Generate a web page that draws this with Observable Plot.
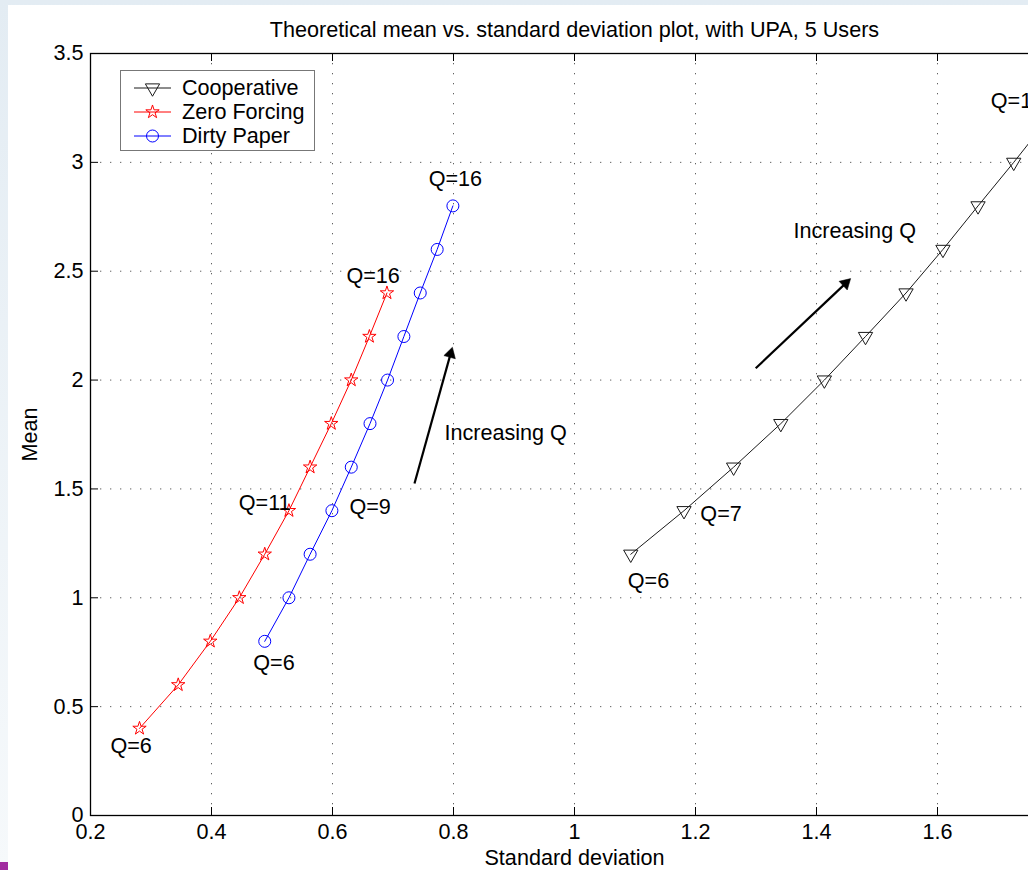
<!DOCTYPE html>
<html>
<head>
<meta charset="utf-8">
<script src="https://cdn.jsdelivr.net/npm/d3@7"></script>
<script src="https://cdn.jsdelivr.net/npm/@observablehq/plot@0.6"></script>
<style>
  html, body { margin: 0; padding: 0; }
  body { width: 1028px; height: 870px; overflow: hidden; font-family: "Liberation Sans", Arial, Helvetica, sans-serif; }
  #page { position: relative; width: 1028px; height: 870px; overflow: hidden;
          background: linear-gradient(to bottom, #e3ecf3, #f6f9fb); }
  #fig { position: absolute; left: 8px; top: 5px; width: 1100px; height: 865px; background: #fff; }
  #fig svg { max-width: none !important; overflow: visible; }
  #corner { position: absolute; left: 0; top: 862px; width: 8px; height: 8px; background: #a12ca0; }
  #legend { position: absolute; left: 120px; top: 70px; width: 195px; height: 81px; background: #fff;
            border: 1px solid #777; box-sizing: border-box; }
  #legend .row { position: absolute; left: 0; height: 24px; width: 194px; }
  #legend svg { position: absolute; left: 12px; top: 0; }
  #legend span { position: absolute; left: 61px; top: 0; line-height: 24px; font-size: 21.6px; color: #000; white-space: nowrap; }
</style>
</head>
<body>
<div id="page">
  <div id="fig"></div>
  <div id="legend"></div>
  <div id="corner"></div>
</div>
<script>
// ---------------- data ----------------
const titleText = "Theoretical mean vs. standard deviation plot, with UPA, 5 Users";
const xLabel = "Standard deviation";
const yLabel = "Mean";
const xTicks = [0.2, 0.4, 0.6, 0.8, 1, 1.2, 1.4, 1.6, 1.8];
const xTickLabels = [0.2, 0.4, 0.6, 0.8, 1, 1.2, 1.4, 1.6];   // 1.8 lies outside the picture
const yTicks = [0, 0.5, 1, 1.5, 2, 2.5, 3, 3.5];

const seriesNames = ["Cooperative", "Zero Forcing", "Dirty Paper"];
const seriesColors = ["#1a1a1a", "#ff0000", "#0000ff"];

const qValues = [6, 7, 8, 9, 10, 11, 12, 13, 14, 15, 16];
const coopStd  = [1.093, 1.181, 1.263, 1.341, 1.413, 1.481, 1.548, 1.609, 1.667, 1.726, 1.783];
const coopMean = [1.2, 1.4, 1.6, 1.8, 2.0, 2.2, 2.4, 2.6, 2.8, 3.0, 3.2];
const zfStd    = [0.281, 0.345, 0.398, 0.446, 0.488, 0.528, 0.563, 0.598, 0.631, 0.661, 0.690];
const zfMean   = [0.4, 0.6, 0.8, 1.0, 1.2, 1.4, 1.6, 1.8, 2.0, 2.2, 2.4];
const dpStd    = [0.488, 0.528, 0.563, 0.599, 0.631, 0.662, 0.691, 0.718, 0.745, 0.773, 0.799];
const dpMean   = [0.8, 1.0, 1.2, 1.4, 1.6, 1.8, 2.0, 2.2, 2.4, 2.6, 2.8];

const noteText = ["Q=6", "Q=11", "Q=16", "Q=6", "Q=9", "Q=16", "Q=6", "Q=7", "Q=16", "Increasing Q", "Increasing Q"];
const noteX    = [0.233, 0.445, 0.623, 0.469, 0.628, 0.759, 1.088, 1.208, 1.688, 0.785, 1.362];
const noteY    = [0.321, 1.436, 2.478, 0.702, 1.418, 2.923, 1.078, 1.386, 3.28, 1.758, 2.685];

const arrowX1 = [0.7355, 1.2995];
const arrowY1 = [1.525, 2.054];
const arrowX2 = [0.798, 1.456];
const arrowY2 = [2.149, 2.465];

// ---------------- build ----------------
const toRows = (xs, ys) => xs.map((x, i) => ({x, y: ys[i], q: qValues[i]}));
const coop = toRows(coopStd, coopMean);
const zf = toRows(zfStd, zfMean);
const dp = toRows(dpStd, dpMean);
const notes = noteText.map((t, i) => ({t, x: noteX[i], y: noteY[i]}));
const arrows = arrowX1.map((x1, i) => ({x1, y1: arrowY1[i], x2: arrowX2[i], y2: arrowY2[i]}));

const W = 1090, H = 865, mL = 82, mR = 40, mT = 48, mB = 55;
const frameW = W - mL - mR, frameH = H - mT - mB;
const TICK = 8;
const FS = 21.6;
const FONT = "'Liberation Sans', Arial, Helvetica, sans-serif";

function build(heads, shafts) {
  return Plot.plot({
    width: W, height: H,
    marginLeft: mL, marginRight: mR, marginTop: mT, marginBottom: mB,
    style: {fontFamily: FONT, fontSize: FS + "px", background: "#fff", color: "#000", overflow: "visible"},
    x: {domain: [0.2, 1.8]},
    y: {domain: [0, 3.5]},
    marks: [
      Plot.gridX(xTicks.slice(1, -1), {stroke: "#444", strokeOpacity: 0.85, strokeDasharray: "1.3,8.7"}),
      Plot.gridY(yTicks.slice(1, -1), {stroke: "#444", strokeOpacity: 0.85, strokeDasharray: "1.3,8.7"}),
      // inward tick marks (MATLAB style)
      Plot.ruleX(xTicks, {x: d => d, insetTop: frameH - TICK, stroke: "#000"}),
      Plot.ruleX(xTicks, {x: d => d, insetBottom: frameH - TICK, stroke: "#000"}),
      Plot.ruleY(yTicks, {y: d => d, insetRight: frameW - TICK, stroke: "#000"}),
      Plot.ruleY(yTicks, {y: d => d, insetLeft: frameW - TICK, stroke: "#000"}),
      Plot.axisX({ticks: xTickLabels, tickSize: 0, tickPadding: 8, label: null, tickFormat: d => String(d), fontSize: FS}),
      Plot.axisY({ticks: yTicks, tickSize: 0, tickPadding: 7, label: null, tickFormat: d => String(d), fontSize: FS}),
      // series
      Plot.line(coop, {x: "x", y: "y", stroke: seriesColors[0], strokeWidth: 1}),
      Plot.line(zf, {x: "x", y: "y", stroke: seriesColors[1], strokeWidth: 1}),
      Plot.line(dp, {x: "x", y: "y", stroke: seriesColors[2], strokeWidth: 1}),
      Plot.dot(coop, {x: "x", y: "y", symbol: "triangle", rotate: 180, r: 5.3, stroke: seriesColors[0], fill: "none", strokeWidth: 1}),
      Plot.dot(zf, {x: "x", y: "y", symbol: "star", r: 4.2, stroke: seriesColors[1], fill: "none", strokeWidth: 1}),
      Plot.dot(dp, {x: "x", y: "y", symbol: "circle", r: 6, stroke: seriesColors[2], fill: "none", strokeWidth: 1}),
      // annotations
      Plot.text(notes, {x: "x", y: "y", text: "t", textAnchor: "start", lineAnchor: "middle", fill: "#000", fontSize: FS}),
      Plot.link(shafts, {x1: "x1", y1: "y1", x2: "x2", y2: "y2", stroke: "#000", strokeWidth: 2.2}),
      ...heads.map(h => Plot.dot([h], {x: "x", y: "y", dx: h.dx, dy: h.dy, rotate: h.angle, symbol: "triangle", r: 4.4, fill: "#000", stroke: "#000", strokeWidth: 0.5})),
      Plot.frame({stroke: "#000", strokeWidth: 1.3}),
      // title and axis labels
      Plot.text([titleText], {frameAnchor: "top", dy: -23, lineAnchor: "middle", text: d => d, fontSize: FS, fill: "#000"}),
      Plot.text([xLabel], {frameAnchor: "bottom", dy: 43, lineAnchor: "middle", text: d => d, fontSize: FS, fill: "#000"}),
      Plot.text([yLabel], {frameAnchor: "left", dx: -60, rotate: -90, textAnchor: "middle", lineAnchor: "middle", text: d => d, fontSize: FS, fill: "#000"})
    ]
  });
}

// first pass: read scales to orient the arrow heads in screen space
const p0 = build([], arrows);
const sx = p0.scale("x"), sy = p0.scale("y");
const heads = [];
const shafts = [];
arrows.forEach(a => {
  const px1 = sx.apply(a.x1), py1 = sy.apply(a.y1), px2 = sx.apply(a.x2), py2 = sy.apply(a.y2);
  const ddx = px2 - px1, ddy = py2 - py1, len = Math.hypot(ddx, ddy);
  const ux = ddx / len, uy = ddy / len;
  const back = 6.5;
  heads.push({x: a.x2, y: a.y2, dx: -ux * back, dy: -uy * back, angle: Math.atan2(ddx, -ddy) * 180 / Math.PI});
  let x2 = a.x2, y2 = a.y2;
  if (typeof sx.invert === "function" && typeof sy.invert === "function") {
    x2 = sx.invert(px2 - ux * 8); y2 = sy.invert(py2 - uy * 8);
  }
  shafts.push({x1: a.x1, y1: a.y1, x2, y2});
});
document.getElementById("fig").appendChild(build(heads, shafts));

// legend
const legend = d3.select("#legend");
const syms = [d3.symbolTriangle, d3.symbolStar, d3.symbolCircle];
const symSizes = [Math.PI * 5.3 * 5.3, Math.PI * 4.2 * 4.2, Math.PI * 6 * 6];
const rowTops = [5, 29, 53];
seriesNames.forEach((name, i) => {
  const row = legend.append("div").attr("class", "row").style("top", rowTops[i] + "px");
  const svg = row.append("svg").attr("width", 40).attr("height", 24);
  svg.append("line").attr("x1", 1).attr("x2", 38).attr("y1", 12).attr("y2", 12)
     .attr("stroke", seriesColors[i]).attr("stroke-width", 1);
  svg.append("path").attr("d", d3.symbol(syms[i], symSizes[i])())
     .attr("transform", `translate(19.5,12)` + (i === 0 ? " rotate(180)" : ""))
     .attr("fill", "none").attr("stroke", seriesColors[i]).attr("stroke-width", 1);
  row.append("span").text(name);
});
</script>
</body>
</html>
